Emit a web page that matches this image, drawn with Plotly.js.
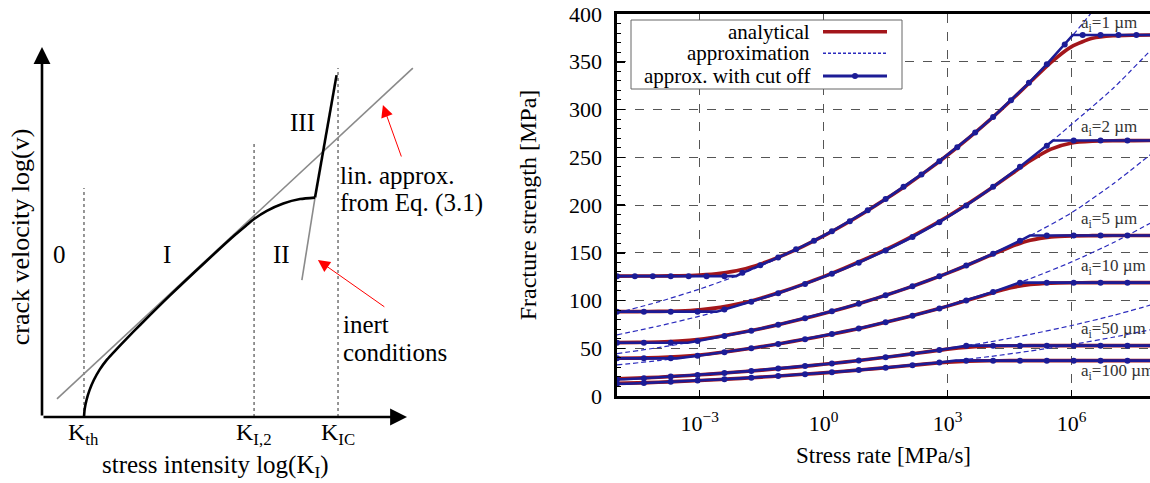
<!DOCTYPE html>
<html><head><meta charset="utf-8">
<script src="https://cdn.plot.ly/plotly-3.0.1.min.js"></script>
<style>html,body{margin:0;padding:0;background:#fff}#chart{width:1150px;height:483px}</style>
</head><body><div id="chart"></div>
<script>
// ================= LEFT PANEL: schematic v-K diagram (arbitrary log units) =================
const regionNames = ['0', 'I', 'II', 'III'];
const regionX = [0.49, 3.42, 6.55, 7.15];
const regionY = [4.38, 4.38, 4.38, 7.97];
const kLabels = ['K<sub>th</sub>', 'K<sub>I,2</sub>', 'K<sub>IC</sub>'];
const kPositions = [1.15, 5.81, 8.11];
const kLineTops = [6.19, 7.41, 9.43];
const curveLogK = [1.15, 1.17, 1.22, 1.30, 1.42, 1.58, 1.78, 2.02, 2.32, 2.70, 3.50, 4.50, 5.30, 5.60, 5.81, 6.16, 6.61, 7.07, 7.48];
const curveLogV = [0.00, 0.22, 0.46, 0.72, 1.00, 1.28, 1.55, 1.81, 2.12, 2.50, 3.28, 4.21, 4.93, 5.18, 5.35, 5.57, 5.77, 5.89, 5.93];
const stage3LogK = [7.48, 8.07];
const stage3LogV = [5.93, 9.24];
const inertLogK = [7.12, 7.48];
const inertLogV = [3.70, 5.93];
const linApproxLogK = [0.41, 10.16];
const linApproxLogV = [0.49, 9.43];

// ================= RIGHT PANEL: fracture strength vs stress rate =================
const crackSizeLabels = ['a<sub>i</sub>=1 µm', 'a<sub>i</sub>=2 µm', 'a<sub>i</sub>=5 µm', 'a<sub>i</sub>=10 µm', 'a<sub>i</sub>=50 µm', 'a<sub>i</sub>=100 µm'];
const crackLabelValue = [389.5, 280.6, 184.3, 135, 69, 25];
// log10 of stress rate [MPa/s]
const halfDecadeExp = [-5,-4.5,-4,-3.5,-3,-2.5,-2,-1.5,-1,-0.5,0,0.5,1,1.5,2,2.5,3,3.5,4,4.5,5,5.5,6,6.5,7,7.5,8];
const decadeExp = [-5,-4,-3,-2,-1,0,1,2,3,4,5,6,7,8];
const markerExpA1 = [-5,-4.567,-4.133,-3.7,-3.267,-2.833,-2.4,-1.967,-1.533,-1.1,-0.667,-0.233,0.2,0.633,1.067,1.5,1.933,2.367,2.8,3.233,3.667,4.1,4.533,4.967,5.4,5.833,6.267,6.7,7.133,7.567,8];
const markerExpOther = [-5,-4.35,-3.7,-3.05,-2.4,-1.75,-1.1,-0.45,0.2,0.85,1.5,2.15,2.8,3.45,4.1,4.75,5.4,6.05,6.7,7.35,8];

// analytical [MPa] at halfDecadeExp
const analyticalA1 = [125.5,125.6,125.7,125.9,126.7,128.5,132.2,138.6,147.0,156.8,167.6,179.6,192.5,206.2,220.5,236.0,252.4,269.8,288.3,308.1,328.8,349.4,365.9,374.5,377.2,377.8,378.0];
const analyticalA2 = [88.3,88.4,88.6,89.0,90.2,92.8,97.0,102.7,109.4,116.9,125.0,133.8,143.2,153.2,164.0,175.6,188.0,201.5,215.9,231.1,246.3,258.6,265.0,266.8,267.3,267.4,267.5];
const analyticalA5 = [55.9,56.1,56.5,57.5,59.5,62.6,66.4,70.8,75.6,80.8,86.3,92.2,98.6,105.4,112.7,120.4,128.7,137.4,146.7,155.8,163.0,166.6,167.7,167.9,168.0,168.0,168.0];
const analyticalA10 = [39.5,39.7,40.2,41.3,43.0,45.5,48.5,51.7,55.3,59.1,63.1,67.4,72.1,77.1,82.4,88.1,94.1,100.5,107.0,113.0,116.8,118.2,118.6,118.7,118.7,118.7,118.7];
const analyticalA50 = [18.1,18.8,19.7,20.9,22.2,23.7,25.4,27.1,29.0,31.0,33.2,35.5,37.9,40.5,43.3,46.2,49.1,51.2,52.3,52.6,52.7,52.7,52.7,52.7,52.7,52.7,52.7];
const analyticalA100 = [13.2,13.7,14.4,15.3,16.2,17.3,18.5,19.8,21.2,22.7,24.2,25.9,27.7,29.6,31.6,33.6,35.4,36.5,36.9,37.0,37.0,37.0,37.0,37.0,37.0,37.0,37.0];

// approximation [MPa] at decadeExp
const approxA1 = [87,98.5,112,127.5,146.2,167.5,192.5,220.5,252.4,288.3,329.4,376.3,429.9,491.1];
const approxA2 = [64.0,73.2,83.6,95.5,109.2,125.0,143.2,164.0,188.0,216.0,248.0,284.5,322,366];
const approxA5 = [44.4,50.7,57.9,66.1,75.6,86.3,98.6,112.7,128.7,147.0,168.0,191.9,222,256];
const approxA10 = [32.5,37.1,42.3,48.4,55.3,63.1,72.1,82.4,94.1,107.5,122.9,140.4,160.4,183.2];
const approxA50 = [17.1,19.5,22.2,25.4,29.0,33.2,37.9,43.3,49.5,56.5,64.6,73.8,84.3,96.3];
const approxA100 = [12.4,14.2,16.2,18.5,21.2,24.2,27.7,31.6,36.1,41.2,47.1,53.8,61.5,70.2];

// approx. with cut off [MPa] at marker positions
const cutoffA1 = [125.5,125.5,125.5,125.5,125.5,125.5,125.5,129.0,136.8,145.0,153.6,162.6,172.5,183.0,194.4,206.2,219.0,232.0,245.8,260.4,275.8,292.2,309.6,327.9,347.4,368.1,378,378,378,378,378];
const cutoffA2 = [88.3,88.3,88.3,88.3,90.5,98.7,107.6,117.4,128.0,139.6,152.4,166.5,182.0,199.5,219.0,240.0,262.0,267.5,267.5,267.5,267.5];
const cutoffA5 = [55.8,55.8,55.8,57.5,62.7,68.4,74.6,81.3,88.7,96.7,105.4,115.0,125.3,136.7,149.0,162.5,168,168,168,168,168];
const cutoffA10 = [39.4,39.4,39.4,42.1,45.9,50.0,54.5,59.5,64.9,70.7,77.1,84.1,91.7,100.0,109.0,118.7,118.7,118.7,118.7,118.7,118.7];
const cutoffA50 = [17.5,18.6,20.3,22.1,24.1,26.3,28.7,31.3,34.1,37.2,40.5,44.2,48.2,52.5,52.7,52.7,52.7,52.7,52.7,52.7,52.7];
const cutoffA100 = [12.8,13.6,14.8,16.1,17.6,19.2,20.9,22.8,24.9,27.1,29.6,32.2,35.1,37,37,37,37,37,37,37,37];
// cut-off corners (log10 rate, MPa)
const cornerExpA1 = [-2.12, 6.03],  cornerValA1 = [125.5, 378];
const cornerExpA2 = [-2.59, 5.55],  cornerValA2 = [88.3, 267.5];
const cornerExpA5 = [-3.29, 4.99],  cornerValA5 = [55.8, 168];
const cornerExpA10 = [-3.55, 4.74], cornerValA10 = [39.4, 118.7];
const cornerExpA50 = [-4.83, 3.48], cornerValA50 = [17.5, 52.7];
const cornerExpA100 = [-4.78, 3.19], cornerValA100 = [12.8, 37];

const legendNames = ['analytical', 'approximation', 'approx. with cut off'];
const xTickVals = [1e-3, 1, 1e3, 1e6];
const xTickText = ['10<sup>−3</sup>', '10<sup>0</sup>', '10<sup>3</sup>', '10<sup>6</sup>'];

// ---------------- build ----------------
const RED = '#a3161b', NAVY = '#1c1c96', DASHBLUE = '#2b2bbd';
const FONT = 'Liberation Serif, Times New Roman, serif';
const p10 = e => Math.pow(10, e);
const traces = [];

// left schematic
kPositions.forEach((k, i) => traces.push({x:[k,k], y:[0,kLineTops[i]], mode:'lines', line:{color:'#6a6a6a', width:1.4, dash:'dot'}, xaxis:'x', yaxis:'y', hoverinfo:'skip'}));
traces.push({x:linApproxLogK, y:linApproxLogV, mode:'lines', line:{color:'#8a8a8a', width:1.6}, xaxis:'x', yaxis:'y'});
traces.push({x:inertLogK, y:inertLogV, mode:'lines', line:{color:'#8a8a8a', width:1.6}, xaxis:'x', yaxis:'y'});
traces.push({x:curveLogK, y:curveLogV, mode:'lines', line:{color:'#000', width:2.6, shape:'spline', smoothing:0.7}, xaxis:'x', yaxis:'y'});
traces.push({x:stage3LogK, y:stage3LogV, mode:'lines', line:{color:'#000', width:2.6}, xaxis:'x', yaxis:'y'});

// right panel
const sets = [
  [analyticalA1, approxA1, markerExpA1, cutoffA1, cornerExpA1, cornerValA1],
  [analyticalA2, approxA2, markerExpOther, cutoffA2, cornerExpA2, cornerValA2],
  [analyticalA5, approxA5, markerExpOther, cutoffA5, cornerExpA5, cornerValA5],
  [analyticalA10, approxA10, markerExpOther, cutoffA10, cornerExpA10, cornerValA10],
  [analyticalA50, approxA50, markerExpOther, cutoffA50, cornerExpA50, cornerValA50],
  [analyticalA100, approxA100, markerExpOther, cutoffA100, cornerExpA100, cornerValA100]
];
sets.forEach(s => traces.push({x:halfDecadeExp.map(p10), y:s[0], mode:'lines', name:legendNames[0], line:{color:RED, width:3.6, shape:'spline', smoothing:0.6}, xaxis:'x2', yaxis:'y2'}));
sets.forEach(s => traces.push({x:decadeExp.map(p10), y:s[1], mode:'lines', name:legendNames[1], line:{color:DASHBLUE, width:1.2, dash:'5px,3px', shape:'spline', smoothing:0.6}, xaxis:'x2', yaxis:'y2'}));
sets.forEach(s => {
  const pts = s[2].map((e, i) => [e, s[3][i]]).concat(s[4].map((e, i) => [e, s[5][i]])).sort((a, b) => a[0] - b[0]);
  traces.push({x:pts.map(p => p10(p[0])), y:pts.map(p => p[1]), mode:'lines', name:legendNames[2], line:{color:NAVY, width:2.6}, xaxis:'x2', yaxis:'y2'});
  traces.push({x:s[2].map(p10), y:s[3], mode:'markers', name:legendNames[2], marker:{color:NAVY, size:6}, xaxis:'x2', yaxis:'y2'});
});

const W = 1150, H = 483;
const px = v => v / W, py = v => 1 - v / H;
const annotations = [];
regionNames.forEach((t, i) => annotations.push({xref:'x', yref:'y', x:regionX[i], y:regionY[i], text:t, showarrow:false, font:{size:25, family:FONT}}));
kLabels.forEach((t, i) => annotations.push({xref:'x', yref:'y', x:kPositions[i], y:-0.46, text:t, showarrow:false, font:{size:24, family:FONT}}));
annotations.push({xref:'x', yref:'y', x:4.74, y:-1.33, text:'stress intensity log(K<sub>I</sub>)', showarrow:false, font:{size:25, family:FONT}});
annotations.push({xref:'x', yref:'y', x:-0.6, y:4.86, text:'crack velocity log(v)', textangle:-90, showarrow:false, font:{size:26, family:FONT}});
annotations.push({xref:'x', yref:'y', x:8.12, y:6.54, xanchor:'left', text:'lin. approx.', showarrow:false, font:{size:25, family:FONT}});
annotations.push({xref:'x', yref:'y', x:8.12, y:5.78, xanchor:'left', text:'from Eq. (3.1)', showarrow:false, font:{size:25, family:FONT}});
annotations.push({xref:'x', yref:'y', x:8.18, y:2.49, xanchor:'left', text:'inert', showarrow:false, font:{size:25, family:FONT}});
annotations.push({xref:'x', yref:'y', x:8.18, y:1.73, xanchor:'left', text:'conditions', showarrow:false, font:{size:25, family:FONT}});
// axis arrows
annotations.push({xref:'x', yref:'y', axref:'x', ayref:'y', x:10.0, y:0, ax:0, ay:0, text:'', showarrow:true, arrowhead:2, arrowsize:1.3, arrowwidth:2.6, arrowcolor:'#000'});
annotations.push({xref:'x', yref:'y', axref:'x', ayref:'y', x:0, y:10.0, ax:0, ay:0, text:'', showarrow:true, arrowhead:2, arrowsize:1.3, arrowwidth:2.6, arrowcolor:'#000'});
// red pointer arrows
annotations.push({xref:'x', yref:'y', axref:'x', ayref:'y', x:9.34, y:8.43, ax:9.86, ay:7.0, text:'', showarrow:true, arrowhead:2, arrowsize:2.4, arrowwidth:1, arrowcolor:'#ff0000'});
annotations.push({xref:'x', yref:'y', axref:'x', ayref:'y', x:7.56, y:4.24, ax:9.42, ay:2.95, text:'', showarrow:true, arrowhead:2, arrowsize:2.4, arrowwidth:1, arrowcolor:'#ff0000'});
// crack size labels
crackSizeLabels.forEach((t, i) => annotations.push({xref:'x2', yref:'y2', x:6.17, y:crackLabelValue[i], xanchor:'left', text:t, showarrow:false, font:{size:17, family:FONT, color:'#333'}}));
// legend texts
const legY = [31.7, 53.3, 76];
legendNames.forEach((t, i) => annotations.push({xref:'paper', yref:'paper', x:px(812), y:py(legY[i]), xanchor:'right', yanchor:'middle', text:t, showarrow:false, font:{size:21, family:FONT}}));

const shapes = [
  {type:'rect', xref:'paper', yref:'paper', x0:px(631), x1:px(902), y0:py(89), y1:py(20), fillcolor:'#fff', line:{color:'#666', width:1}, layer:'above'},
  {type:'line', xref:'paper', yref:'paper', x0:px(823), x1:px(887), y0:py(legY[0]), y1:py(legY[0]), line:{color:RED, width:3.5}, layer:'above'},
  {type:'line', xref:'paper', yref:'paper', x0:px(823), x1:px(887), y0:py(legY[1]), y1:py(legY[1]), line:{color:DASHBLUE, width:1.5, dash:'3px,2px'}, layer:'above'},
  {type:'line', xref:'paper', yref:'paper', x0:px(823), x1:px(887), y0:py(legY[2]), y1:py(legY[2]), line:{color:NAVY, width:3}, layer:'above'},
  {type:'circle', xref:'paper', yref:'paper', x0:px(852), x1:px(858), y0:py(79), y1:py(73), fillcolor:NAVY, line:{color:NAVY, width:0}, layer:'above'}
];

const layout = {
  width:W, height:H, margin:{l:0, r:0, t:0, b:0},
  paper_bgcolor:'#fff', plot_bgcolor:'rgba(0,0,0,0)', showlegend:false,
  font:{family:FONT, color:'#000'},
  xaxis:{domain:[0, 440/W], range:[-1.1507, 10.9041], visible:false, fixedrange:true},
  yaxis:{domain:[0, 1], range:[-1.7838, 11.2703], visible:false, fixedrange:true},
  xaxis2:{type:'log', domain:[617/W, 1], range:[-5, 7.896], anchor:'y2',
    tickvals:xTickVals, ticktext:xTickText, ticks:'inside', ticklen:6, tickwidth:1.5, tickcolor:'#000',
    showline:true, linewidth:2.6, linecolor:'#000', mirror:true, zeroline:false,
    showgrid:true, gridcolor:'#555', griddash:'dash', gridwidth:1,
    tickfont:{size:22, family:FONT}, ticklabelstandoff:6,
    title:{text:'Stress rate [MPa/s]', font:{size:23, family:FONT}, standoff:12}},
  yaxis2:{domain:[1-396/H, 1-14/H], range:[0, 400], anchor:'x2', dtick:50, tick0:0,
    ticks:'inside', ticklen:8, tickwidth:1.5, tickcolor:'#000',
    minor:{ticks:'inside', dtick:10, ticklen:4, tickwidth:1, tickcolor:'#000', showgrid:false},
    showline:true, linewidth:2.6, linecolor:'#000', mirror:false, zeroline:false,
    showgrid:true, gridcolor:'#555', griddash:'dash', gridwidth:1,
    tickfont:{size:22, family:FONT}, ticklabelstandoff:8,
    title:{text:'Fracture strength [MPa]', font:{size:24, family:FONT}, standoff:26}},
  annotations:annotations, shapes:shapes
};
Plotly.newPlot('chart', traces, layout, {staticPlot:true, displayModeBar:false});
</script></body></html>
